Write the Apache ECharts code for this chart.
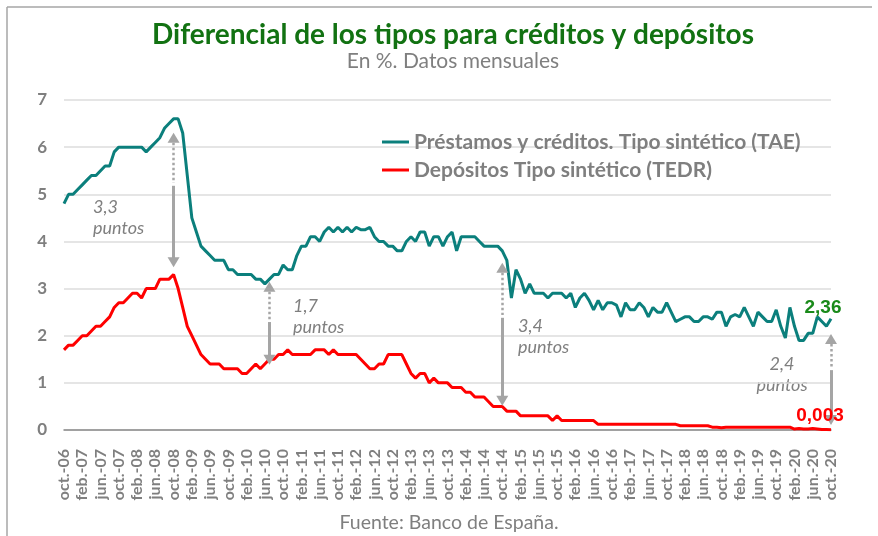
<!DOCTYPE html>
<html>
<head>
<meta charset="utf-8">
<script src="https://cdn.jsdelivr.net/npm/echarts@6/dist/echarts.min.js"></script>
<style>
  html, body { margin: 0; padding: 0; background: #ffffff; }
  #chart { width: 878px; height: 536px; }
</style>
</head>
<body>
<div id="chart"></div>
<script>
// Monthly series, October 2006 to October 2020
const MESES = ['ene.', 'feb.', 'mar.', 'abr.', 'may.', 'jun.', 'jul.', 'ago.', 'sep.', 'oct.', 'nov.', 'dic.'];
const INICIO_MES = 9;      // octubre
const INICIO_ANIO = 2006;
const N_MESES = 169;

// Préstamos y créditos. Tipo sintético (TAE), %
const prestamos = [
  4.8, 5.0, 5.0, 5.1, 5.2, 5.3, 5.4, 5.4, 5.5, 5.6, 5.6, 5.9,
  6.0, 6.0, 6.0, 6.0, 6.0, 6.0, 5.9, 6.0, 6.1, 6.2, 6.4, 6.5,
  6.6, 6.6, 6.3, 5.4, 4.5, 4.2, 3.9, 3.8, 3.7, 3.6, 3.6, 3.6,
  3.4, 3.4, 3.3, 3.3, 3.3, 3.3, 3.2, 3.2, 3.1, 3.2, 3.3, 3.3,
  3.5, 3.4, 3.4, 3.7, 3.9, 3.9, 4.1, 4.1, 4.0, 4.2, 4.3, 4.2,
  4.3, 4.2, 4.3, 4.2, 4.3, 4.25, 4.25, 4.3, 4.1, 4.0, 4.0, 3.9,
  3.9, 3.8, 3.8, 4.0, 4.1, 4.0, 4.2, 4.2, 3.9, 4.1, 4.1, 3.9,
  4.1, 4.2, 3.8, 4.1, 4.1, 4.1, 4.1, 4.0, 3.9, 3.9, 3.9, 3.9,
  3.8, 3.6, 2.8, 3.4, 3.2, 2.9, 3.1, 2.9, 2.9, 2.9, 2.8, 2.9,
  2.9, 2.9, 2.8, 2.9, 2.6, 2.8, 2.9, 2.75, 2.55, 2.75, 2.55, 2.7,
  2.7, 2.65, 2.4, 2.7, 2.55, 2.55, 2.7, 2.6, 2.4, 2.6, 2.5, 2.5,
  2.7, 2.5, 2.3, 2.35, 2.4, 2.4, 2.3, 2.3, 2.4, 2.4, 2.35, 2.5,
  2.5, 2.2, 2.4, 2.45, 2.4, 2.6, 2.4, 2.2, 2.5, 2.4, 2.3, 2.3,
  2.55, 2.2, 1.95, 2.6, 2.2, 1.9, 1.9, 2.05, 2.05, 2.4, 2.3, 2.2,
  2.36
];

// Depósitos. Tipo sintético (TEDR), %
const depositos = [
  1.7, 1.8, 1.8, 1.9, 2.0, 2.0, 2.1, 2.2, 2.2, 2.3, 2.4, 2.6,
  2.7, 2.7, 2.8, 2.9, 2.9, 2.8, 3.0, 3.0, 3.0, 3.2, 3.2, 3.2,
  3.3, 3.0, 2.6, 2.2, 2.0, 1.8, 1.6, 1.5, 1.4, 1.4, 1.4, 1.3,
  1.3, 1.3, 1.3, 1.2, 1.2, 1.3, 1.4, 1.3, 1.4, 1.5, 1.5, 1.6,
  1.6, 1.7, 1.6, 1.6, 1.6, 1.6, 1.6, 1.7, 1.7, 1.7, 1.6, 1.7,
  1.6, 1.6, 1.6, 1.6, 1.6, 1.5, 1.4, 1.3, 1.3, 1.4, 1.4, 1.6,
  1.6, 1.6, 1.6, 1.4, 1.2, 1.1, 1.2, 1.2, 1.0, 1.1, 1.0, 1.0,
  1.0, 0.9, 0.9, 0.9, 0.8, 0.8, 0.7, 0.7, 0.7, 0.6, 0.5, 0.5,
  0.5, 0.4, 0.4, 0.4, 0.3, 0.3, 0.3, 0.3, 0.3, 0.3, 0.3, 0.2,
  0.3, 0.2, 0.2, 0.2, 0.2, 0.2, 0.2, 0.2, 0.2, 0.12, 0.12, 0.12,
  0.12, 0.12, 0.12, 0.12, 0.12, 0.12, 0.12, 0.12, 0.12, 0.12, 0.12, 0.12,
  0.12, 0.12, 0.12, 0.09, 0.09, 0.09, 0.09, 0.09, 0.09, 0.09, 0.06, 0.06,
  0.05, 0.06, 0.06, 0.06, 0.06, 0.06, 0.06, 0.06, 0.06, 0.06, 0.06, 0.06,
  0.06, 0.06, 0.06, 0.06, 0.02, 0.03, 0.02, 0.02, 0.03, 0.02, 0.01, 0.01,
  0.003
];

// Spread annotations: month index, top tip, end of dotted part, start of solid part, bottom tip
const flechas = [
  { idx: 24,  arriba: 6.2, finPunteado: 5.24, inicioSolido: 5.18, abajo: 3.56 },
  { idx: 45,  arriba: 3.04, finPunteado: 2.33, inicioSolido: 2.29, abajo: 1.49 },
  { idx: 96,  arriba: 3.44, finPunteado: 2.44, inicioSolido: 2.38, abajo: 0.62 },
  { idx: 168, arriba: 1.93, finPunteado: 1.34, inicioSolido: 1.27, abajo: 0.21 }
];
const textosDiferencial = ['3,3\npuntos', '1,7\npuntos', '3,4\npuntos', '2,4\npuntos'];

const yTicks = [0, 1, 2, 3, 4, 5, 6, 7];

const categorias = [];
for (let i = 0; i < N_MESES; i++) {
  const m = (INICIO_MES + i) % 12;
  const a = INICIO_ANIO + Math.floor((INICIO_MES + i) / 12);
  categorias.push(MESES[m] + '-' + String(a).slice(2));
}

const GRIS = '#7f7f7f';
const FLECHA = '#a5a5a5';
const coma = v => String(v).replace('.', ',');

const lineasFlecha = [];
flechas.forEach(f => {
  lineasFlecha.push([
    { coord: [f.idx, f.arriba], symbol: 'triangle', lineStyle: { type: 'dotted', width: 2.5 } },
    { coord: [f.idx, f.finPunteado], symbol: 'none' }
  ]);
  lineasFlecha.push([
    { coord: [f.idx, f.inicioSolido], symbol: 'none', lineStyle: { type: 'solid', width: 3 } },
    { coord: [f.idx, f.abajo], symbol: 'triangle' }
  ]);
});

const last = N_MESES - 1;

const chart = echarts.init(document.getElementById('chart'), null, { renderer: 'canvas' });

chart.setOption({
  animation: false,
  backgroundColor: '#ffffff',
  textStyle: { fontFamily: 'Lato' },
  grid: { left: 64, right: 47, top: 100, bottom: 106, containLabel: false },
  legend: {
    orient: 'vertical',
    left: 377,
    top: 126,
    itemWidth: 27,
    itemHeight: 3,
    itemGap: 6,
    icon: 'rect',
    textStyle: { color: GRIS, fontWeight: 'bold', fontSize: 21, fontFamily: 'Lato', lineHeight: 22 },
    data: ['Préstamos y créditos. Tipo sintético (TAE)', 'Depósitos Tipo sintético (TEDR)']
  },
  xAxis: {
    type: 'category',
    boundaryGap: false,
    data: categorias,
    axisLine: { lineStyle: { color: '#8a8a8a', width: 1.5 } },
    axisTick: { show: false },
    axisLabel: {
      interval: 3,
      rotate: 90,
      margin: 19,
      color: GRIS,
      fontWeight: 'bold',
      fontSize: 16,
      fontFamily: 'Lato'
    },
    splitLine: { show: false }
  },
  yAxis: {
    type: 'value',
    min: yTicks[0],
    max: yTicks[yTicks.length - 1],
    interval: 1,
    axisLine: { show: false },
    axisTick: { show: false },
    axisLabel: { color: GRIS, fontWeight: 'bold', fontSize: 17, margin: 17, fontFamily: 'Lato' },
    splitLine: { lineStyle: { color: '#dcdcdc', width: 1.5 } }
  },
  series: [
    {
      name: 'Préstamos y créditos. Tipo sintético (TAE)',
      type: 'line',
      data: prestamos,
      showSymbol: false,
      lineStyle: { color: '#0b7f7c', width: 3 },
      itemStyle: { color: '#0b7f7c' },
      z: 3,
      markPoint: {
        symbol: 'circle',
        symbolSize: 1,
        itemStyle: { color: 'rgba(0,0,0,0)' },
        silent: true,
        label: {
          show: true,
          position: 'top',
          distance: 1,
          offset: [-8, 0],
          formatter: p => coma(p.value),
          color: '#1a8a1a',
          fontWeight: 'bold',
          fontSize: 19,
          fontFamily: 'Liberation Sans'
        },
        data: [{ coord: [last, prestamos[last]], value: prestamos[last] }]
      }
    },
    {
      name: 'Depósitos Tipo sintético (TEDR)',
      type: 'line',
      data: depositos,
      showSymbol: false,
      lineStyle: { color: '#ff0000', width: 3 },
      itemStyle: { color: '#ff0000' },
      z: 3,
      markPoint: {
        symbol: 'circle',
        symbolSize: 1,
        itemStyle: { color: 'rgba(0,0,0,0)' },
        silent: true,
        label: {
          show: true,
          position: 'top',
          distance: 4,
          offset: [-11, 0],
          formatter: p => coma(p.value),
          color: '#ff0000',
          fontWeight: 'bold',
          fontSize: 19,
          fontFamily: 'Liberation Sans'
        },
        data: [{ coord: [last, depositos[last]], value: depositos[last] }]
      },
      markLine: {
        silent: true,
        symbolSize: [12, 10],
        label: { show: false },
        lineStyle: { color: FLECHA, width: 3 },
        itemStyle: { color: FLECHA },
        emphasis: { disabled: true },
        z: 5,
        data: lineasFlecha
      }
    }
  ],
  graphic: [
    { type: 'line', shape: { x1: 7, y1: 7, x2: 872, y2: 7 }, style: { stroke: '#a6a6a6', lineWidth: 1.5 }, silent: true },
    { type: 'line', shape: { x1: 7, y1: 7, x2: 7, y2: 536 }, style: { stroke: '#a6a6a6', lineWidth: 1.5 }, silent: true },
    {
      type: 'text', x: 453, y: 35, silent: true,
      style: {
        text: 'Diferencial de los tipos para créditos y depósitos',
        fill: '#127212', font: 'bold 28px Lato', textAlign: 'center', textVerticalAlign: 'middle'
      }
    },
    {
      type: 'text', x: 453, y: 61, silent: true,
      style: {
        text: 'En %. Datos mensuales',
        fill: GRIS, font: '21px Lato', textAlign: 'center', textVerticalAlign: 'middle'
      }
    },
    {
      type: 'text', x: 449, y: 523, silent: true,
      style: {
        text: 'Fuente: Banco de España.',
        fill: GRIS, font: '19.5px Lato', textAlign: 'center', textVerticalAlign: 'middle'
      }
    },
    {
      type: 'text', x: 93, y: 197, silent: true,
      style: { text: textosDiferencial[0], fill: GRIS, font: 'italic 18px Lato', lineHeight: 21, textAlign: 'left' }
    },
    {
      type: 'text', x: 293, y: 296, silent: true,
      style: { text: textosDiferencial[1], fill: GRIS, font: 'italic 18px Lato', lineHeight: 21, textAlign: 'left' }
    },
    {
      type: 'text', x: 518, y: 316, silent: true,
      style: { text: textosDiferencial[2], fill: GRIS, font: 'italic 18px Lato', lineHeight: 21, textAlign: 'left' }
    },
    {
      type: 'text', x: 782, y: 354, silent: true,
      style: { text: textosDiferencial[3], fill: GRIS, font: 'italic 18px Lato', lineHeight: 21, textAlign: 'center' }
    }
  ]
});
</script>
</body>
</html>
